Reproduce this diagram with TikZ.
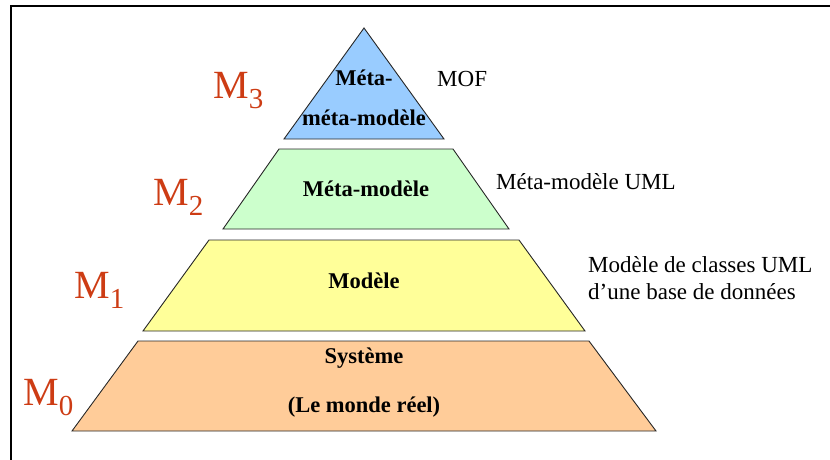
\documentclass[tikz,border=0pt]{standalone}
\usepackage{fontspec}
\setmainfont{Liberation Serif}
\usetikzlibrary{positioning}
\definecolor{mrouge}{RGB}{205,60,20}
\definecolor{mbleu}{RGB}{153,204,255}
\definecolor{mvert}{RGB}{204,255,204}
\definecolor{mjaune}{RGB}{255,255,153}
\definecolor{morange}{RGB}{255,204,153}
\tikzset{
	cadre/.style={line width=2pt},
	couche/.style={draw=black!85,line width=0.9pt},
	titre/.style={font=\fontsize{22.5}{24}\selectfont\bfseries,inner sep=0pt},
	note/.style={font=\fontsize{23}{27}\selectfont,anchor=west,align=left,inner sep=0pt},
	niveau/.style={text=mrouge,font=\fontsize{40}{44}\selectfont,anchor=base west,inner sep=0pt}
}
\begin{document}
\begin{tikzpicture}[x=1pt,y=-1pt]
			\newcommand{\monindice}[1]{\raisebox{-10pt}{\fontsize{29}{30}\selectfont #1}}
			\useasboundingbox (0,0) rectangle (830,459);
			%Frame
			\coordinate (cadreBas) at (11,470);
			\coordinate (cadreCoin) at (11,6);
			\coordinate (cadreDroite) at (840,6);
			\draw[cadre] (cadreBas) -- (cadreCoin) -- (cadreDroite);
			%Level M3, the tip of the pyramid
			\coordinate (sommet) at (364,28);
			\coordinate (b3g) at (284,139);
			\coordinate (b3d) at (444,139);
			\filldraw[couche,fill=mbleu] (b3g) -- (sommet) -- (b3d) -- cycle;
			%Level M2
			\coordinate (h2g) at (279,149);
			\coordinate (h2d) at (453,149);
			\coordinate (b2g) at (223,229);
			\coordinate (b2d) at (509,229);
			\filldraw[couche,fill=mvert] (b2g) -- (h2g) -- (h2d) -- (b2d) -- cycle;
			%Level M1
			\coordinate (h1g) at (209,240);
			\coordinate (h1d) at (519,240);
			\coordinate (b1g) at (143,331);
			\coordinate (b1d) at (585,331);
			\filldraw[couche,fill=mjaune] (b1g) -- (h1g) -- (h1d) -- (b1d) -- cycle;
			%Level M0
			\coordinate (h0g) at (138,341);
			\coordinate (h0d) at (589,341);
			\coordinate (b0g) at (72,431);
			\coordinate (b0d) at (656,431);
			\filldraw[couche,fill=morange] (b0g) -- (h0g) -- (h0d) -- (b0d) -- cycle;
			%Texts inside the levels
			\node[titre] (metameta1) at (364,78) {Méta-};
			\node[titre] (metameta2) at (364,118) {méta-modèle};
			\node[titre] (meta) at (366,189) {Méta-modèle};
			\node[titre] (modele) at (364,281) {Modèle};
			\node[titre] (systeme) at (364,358) {Système};
			\node[titre] (monde) at (364,407) {(Le monde réel)};
			%Texts on the right
			\node[note] (mof) at (437,79) {MOF};
			\node[note] (metauml) at (496,182) {Méta-modèle UML};
			\node[note] (classesuml) at (588,278) {Modèle de classes UML\\d’une base de données};
			%Names of the levels
			\node[niveau] (m3) at (213,98) {M\monindice{3}};
			\node[niveau] (m2) at (153,205) {M\monindice{2}};
			\node[niveau] (m1) at (74,298) {M\monindice{1}};
			\node[niveau] (m0) at (23,405) {M\monindice{0}};
\end{tikzpicture}
\end{document}
